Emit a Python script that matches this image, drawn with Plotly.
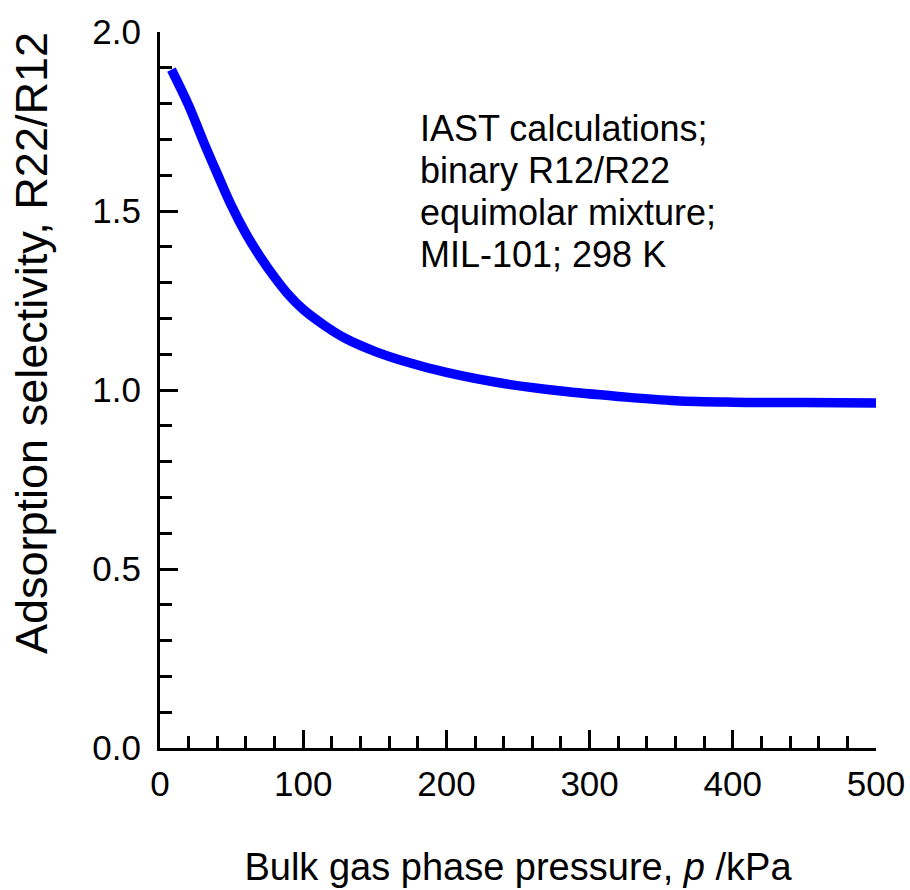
import plotly.graph_objects as go

# IAST selectivity of R22 over R12 in MIL-101 at 298 K
pressure_kpa = [8, 20, 30, 40, 50, 60, 70, 80, 90, 100, 115, 130, 150, 170,
                200, 240, 280, 320, 360, 400, 450, 500]
selectivity = [1.895, 1.795, 1.697, 1.604, 1.514, 1.437, 1.372, 1.315, 1.265,
               1.225, 1.180, 1.143, 1.108, 1.081, 1.049, 1.018, 0.997, 0.982,
               0.970, 0.966, 0.965, 0.964]

x_ticks = [0, 100, 200, 300, 400, 500]
y_ticks = [0.0, 0.5, 1.0, 1.5, 2.0]
note_lines = ["IAST calculations;", "binary R12/R22", "equimolar mixture;", "MIL-101; 298 K"]

FONT = "Liberation Sans, Arial, sans-serif"
W, H = 910, 890
L, R, T, B = 160, 34, 32, 142

fig = go.Figure()
fig.add_trace(go.Scatter(
    x=pressure_kpa, y=selectivity, mode="lines",
    line=dict(color="#0000FF", width=9.5, shape="spline", smoothing=1.0),
    showlegend=False, hoverinfo="skip",
))

axis_common = dict(
    showline=True, linecolor="black", linewidth=3,
    ticks="inside", ticklen=18, tickwidth=3, tickcolor="black",
    showgrid=False, zeroline=False, mirror=False,
    tickfont=dict(family=FONT, size=35, color="black"),
)

fig.update_xaxes(
    range=[0, 500], tickvals=x_ticks, ticktext=[str(v) for v in x_ticks],
    minor=dict(dtick=20, ticks="inside", ticklen=12, tickwidth=3, tickcolor="black", showgrid=False),
    ticklabelstandoff=3,
    title=dict(text="Bulk gas phase pressure, <i>p</i> /kPa",
               font=dict(family=FONT, size=38, color="black"), standoff=52),
    **axis_common,
)
fig.update_yaxes(
    range=[0, 2], tickvals=y_ticks, ticktext=[f"{v:.1f}" for v in y_ticks],
    minor=dict(dtick=0.1, ticks="inside", ticklen=12, tickwidth=3, tickcolor="black", showgrid=False),
    ticklabelstandoff=9,
    **axis_common,
)

plot_h = H - T - B
# vertical axis title
fig.add_annotation(
    text="Adsorption selectivity, R22/R12", textangle=-90,
    xref="paper", yref="paper", x=(31 - L) / (W - L - R), y=(H - B - 343) / plot_h,
    xanchor="center", yanchor="middle", showarrow=False,
    font=dict(family=FONT, size=45, color="black"),
)

# note block, one annotation per line
line_tops = [106, 148, 190, 232]
for txt, top in zip(note_lines, line_tops):
    fig.add_annotation(
        text=txt, xref="x", yref="paper", x=180, y=(H - B - top) / plot_h,
        xanchor="left", yanchor="top", showarrow=False, align="left",
        font=dict(family=FONT, size=36, color="black"),
    )

fig.update_layout(
    width=W, height=H, margin=dict(l=L, r=R, t=T, b=B, autoexpand=False),
    paper_bgcolor="white", plot_bgcolor="white",
)

fig.write_html("out.html")
